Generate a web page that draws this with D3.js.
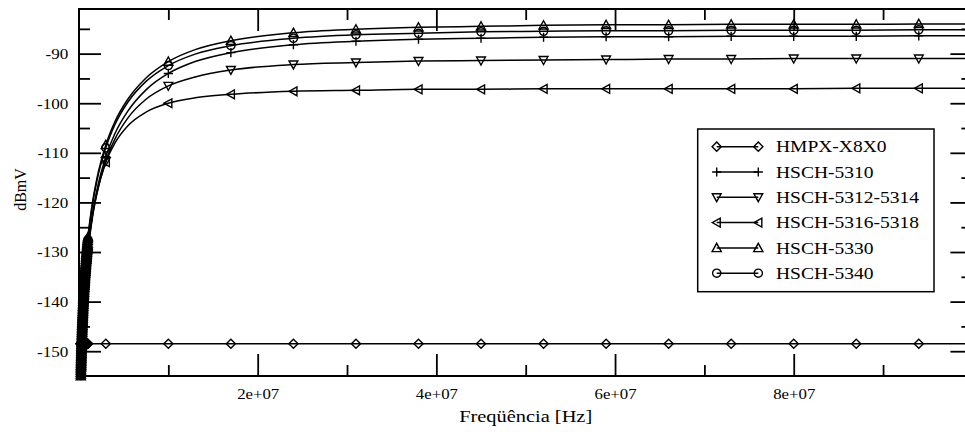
<!DOCTYPE html>
<html>
<head>
<meta charset="utf-8">
<script src="https://cdn.jsdelivr.net/npm/d3@7"></script>
<style>
  html, body { margin: 0; padding: 0; background: #fff; }
  svg { display: block; }
  text { font-family: "Liberation Serif", "Times New Roman", serif; fill: #000; }
</style>
</head>
<body>
<svg id="chart" width="965" height="432"></svg>
<script>
// Frequency grid (Hz): dense logarithmic sweep up to 1 MHz, then the wide-band points
const freqHz = [
  2.000e5, 2.041e5, 2.082e5, 2.125e5, 2.168e5, 2.212e5, 2.257e5, 2.303e5, 2.350e5, 2.398e5,
  2.446e5, 2.496e5, 2.547e5, 2.599e5, 2.652e5, 2.706e5, 2.761e5, 2.817e5, 2.874e5, 2.933e5,
  2.993e5, 3.053e5, 3.116e5, 3.179e5, 3.244e5, 3.310e5, 3.377e5, 3.446e5, 3.516e5, 3.587e5,
  3.660e5, 3.735e5, 3.811e5, 3.889e5, 3.968e5, 4.048e5, 4.131e5, 4.215e5, 4.301e5, 4.388e5,
  4.477e5, 4.569e5, 4.662e5, 4.756e5, 4.853e5, 4.952e5, 5.053e5, 5.156e5, 5.261e5, 5.368e5,
  5.477e5, 5.588e5, 5.702e5, 5.818e5, 5.936e5, 6.057e5, 6.181e5, 6.306e5, 6.435e5, 6.566e5,
  6.699e5, 6.836e5, 6.975e5, 7.117e5, 7.262e5, 7.409e5, 7.560e5, 7.714e5, 7.871e5, 8.031e5,
  8.195e5, 8.361e5, 8.532e5, 8.705e5, 8.882e5, 9.063e5, 9.248e5, 9.436e5, 9.628e5, 9.824e5,
  1.002e6,
  1.5e6, 2.0e6, 3.0e6, 4.0e6, 5.5e6, 7.5e6, 1.0e7, 1.3e7, 1.7e7, 2.4e7,
  3.1e7, 3.8e7, 4.5e7, 5.2e7, 5.9e7, 6.6e7, 7.3e7, 8.0e7, 8.7e7, 9.4e7, 1.0e8
];
// 1 = a symbol is drawn at that point
const symbolOn = [
  1, 1, 1, 1, 1, 1, 1, 1, 1, 1,  1, 1, 1, 1, 1, 1, 1, 1, 1, 1,
  1, 1, 1, 1, 1, 1, 1, 1, 1, 1,  1, 1, 1, 1, 1, 1, 1, 1, 1, 1,
  1, 1, 1, 1, 1, 1, 1, 1, 1, 1,  1, 1, 1, 1, 1, 1, 1, 1, 1, 1,
  1, 1, 1, 1, 1, 1, 1, 1, 1, 1,  1, 1, 1, 1, 1, 1, 1, 1, 1, 1,
  1,
  0, 0, 1, 0, 0, 0, 1, 0, 1, 1,
  1, 1, 1, 1, 1, 1, 1, 1, 1, 1, 0
];

// Detected level (dBmV) for each diode
const hmpxX8X0 = [
  -148.5, -148.5, -148.5, -148.5, -148.5, -148.5, -148.5, -148.5, -148.5, -148.5,
  -148.5, -148.5, -148.5, -148.5, -148.5, -148.5, -148.5, -148.5, -148.5, -148.5,
  -148.5, -148.5, -148.5, -148.5, -148.5, -148.5, -148.5, -148.5, -148.5, -148.5,
  -148.5, -148.5, -148.5, -148.5, -148.5, -148.5, -148.5, -148.5, -148.5, -148.5,
  -148.5, -148.5, -148.5, -148.5, -148.5, -148.5, -148.5, -148.5, -148.5, -148.5,
  -148.5, -148.5, -148.5, -148.5, -148.5, -148.5, -148.5, -148.5, -148.5, -148.5,
  -148.5, -148.5, -148.5, -148.5, -148.5, -148.5, -148.5, -148.5, -148.5, -148.5,
  -148.5, -148.5, -148.5, -148.5, -148.5, -148.5, -148.5, -148.5, -148.5, -148.5,
  -148.5,
  -148.5, -148.5, -148.5, -148.5, -148.5, -148.5, -148.5, -148.5, -148.5, -148.5,
  -148.5, -148.5, -148.5, -148.5, -148.5, -148.5, -148.5, -148.5, -148.5, -148.5, -148.5
];
const hsch5310 = [
  -157.40, -157.05, -156.70, -156.35, -156.00, -155.65, -155.30, -154.95, -154.60, -154.25,
  -153.90, -153.55, -153.20, -152.85, -152.50, -152.15, -151.80, -151.45, -151.10, -150.75,
  -150.40, -150.05, -149.70, -149.35, -149.00, -148.65, -148.30, -147.95, -147.60, -147.25,
  -146.90, -146.55, -146.20, -145.85, -145.50, -145.15, -144.80, -144.45, -144.10, -143.75,
  -143.40, -143.05, -142.70, -142.35, -142.00, -141.65, -141.30, -140.95, -140.60, -140.25,
  -139.90, -139.55, -139.20, -138.85, -138.50, -138.15, -137.80, -137.45, -137.10, -136.75,
  -136.40, -136.05, -135.70, -135.35, -135.00, -134.65, -134.30, -133.95, -133.60, -133.25,
  -132.90, -132.55, -132.20, -131.85, -131.50, -131.15, -130.80, -130.45, -130.10, -129.75,
  -129.40,
  -122.5, -117.6, -110.8, -106.2, -101.5, -97.3, -94.0, -91.6, -89.8, -88.2,
  -87.5, -87.1, -86.9, -86.7, -86.6, -86.6, -86.5, -86.5, -86.5, -86.4, -86.4
];
const hsch5312 = [
  -157.90, -157.55, -157.20, -156.85, -156.50, -156.15, -155.80, -155.45, -155.10, -154.75,
  -154.40, -154.05, -153.70, -153.35, -153.00, -152.65, -152.30, -151.95, -151.60, -151.25,
  -150.90, -150.55, -150.20, -149.85, -149.50, -149.15, -148.80, -148.45, -148.10, -147.75,
  -147.40, -147.05, -146.70, -146.35, -146.00, -145.65, -145.30, -144.95, -144.60, -144.25,
  -143.90, -143.55, -143.20, -142.85, -142.50, -142.15, -141.80, -141.45, -141.10, -140.75,
  -140.40, -140.05, -139.70, -139.35, -139.00, -138.65, -138.30, -137.95, -137.60, -137.25,
  -136.90, -136.55, -136.20, -135.85, -135.50, -135.15, -134.80, -134.45, -134.10, -133.75,
  -133.40, -133.05, -132.70, -132.35, -132.00, -131.65, -131.30, -130.95, -130.60, -130.25,
  -129.90,
  -123.1, -118.3, -111.7, -107.3, -102.9, -99.2, -96.5, -94.7, -93.3, -92.2,
  -91.8, -91.5, -91.4, -91.3, -91.2, -91.1, -91.1, -91.0, -91.0, -91.0, -91.0
];
const hsch5316 = [
  -157.50, -157.15, -156.80, -156.45, -156.10, -155.75, -155.40, -155.05, -154.70, -154.35,
  -154.00, -153.65, -153.30, -152.95, -152.60, -152.25, -151.90, -151.55, -151.20, -150.85,
  -150.50, -150.15, -149.80, -149.45, -149.10, -148.75, -148.40, -148.05, -147.70, -147.35,
  -147.00, -146.65, -146.30, -145.95, -145.60, -145.25, -144.90, -144.55, -144.20, -143.85,
  -143.50, -143.15, -142.80, -142.45, -142.10, -141.75, -141.40, -141.05, -140.70, -140.35,
  -140.00, -139.65, -139.30, -138.95, -138.60, -138.25, -137.90, -137.55, -137.20, -136.85,
  -136.50, -136.15, -135.80, -135.45, -135.10, -134.75, -134.40, -134.05, -133.70, -133.35,
  -133.00, -132.65, -132.30, -131.95, -131.60, -131.25, -130.90, -130.55, -130.20, -129.85,
  -129.50,
  -122.7, -118.1, -111.9, -108.1, -104.5, -101.8, -100.0, -98.9, -98.2, -97.6,
  -97.4, -97.2, -97.2, -97.1, -97.1, -97.1, -97.1, -97.1, -97.0, -97.0, -97.0
];
const hsch5330 = [
  -155.00, -154.65, -154.30, -153.95, -153.60, -153.25, -152.90, -152.55, -152.20, -151.85,
  -151.50, -151.15, -150.80, -150.45, -150.10, -149.75, -149.40, -149.05, -148.70, -148.35,
  -148.00, -147.65, -147.30, -146.95, -146.60, -146.25, -145.90, -145.55, -145.20, -144.85,
  -144.50, -144.15, -143.80, -143.45, -143.10, -142.75, -142.40, -142.05, -141.70, -141.35,
  -141.00, -140.65, -140.30, -139.95, -139.60, -139.25, -138.90, -138.55, -138.20, -137.85,
  -137.50, -137.15, -136.80, -136.45, -136.10, -135.75, -135.40, -135.05, -134.70, -134.35,
  -134.00, -133.65, -133.30, -132.95, -132.60, -132.25, -131.90, -131.55, -131.20, -130.85,
  -130.50, -130.15, -129.80, -129.45, -129.10, -128.75, -128.40, -128.05, -127.70, -127.35,
  -127.00,
  -120.1, -115.2, -108.4, -103.8, -99.1, -94.9, -91.6, -89.2, -87.4, -85.8,
  -85.1, -84.7, -84.5, -84.3, -84.2, -84.2, -84.1, -84.1, -84.1, -84.0, -84.0
];
const hsch5340 = [
  -155.50, -155.15, -154.80, -154.45, -154.10, -153.75, -153.40, -153.05, -152.70, -152.35,
  -152.00, -151.65, -151.30, -150.95, -150.60, -150.25, -149.90, -149.55, -149.20, -148.85,
  -148.50, -148.15, -147.80, -147.45, -147.10, -146.75, -146.40, -146.05, -145.70, -145.35,
  -145.00, -144.65, -144.30, -143.95, -143.60, -143.25, -142.90, -142.55, -142.20, -141.85,
  -141.50, -141.15, -140.80, -140.45, -140.10, -139.75, -139.40, -139.05, -138.70, -138.35,
  -138.00, -137.65, -137.30, -136.95, -136.60, -136.25, -135.90, -135.55, -135.20, -134.85,
  -134.50, -134.15, -133.80, -133.45, -133.10, -132.75, -132.40, -132.05, -131.70, -131.35,
  -131.00, -130.65, -130.30, -129.95, -129.60, -129.25, -128.90, -128.55, -128.20, -127.85,
  -127.50,
  -120.6, -115.7, -109.0, -104.4, -99.7, -95.6, -92.4, -90.1, -88.4, -86.9,
  -86.2, -85.9, -85.6, -85.5, -85.4, -85.4, -85.3, -85.3, -85.3, -85.2, -85.2
];

const seriesNames  = ["HMPX-X8X0", "HSCH-5310", "HSCH-5312-5314", "HSCH-5316-5318", "HSCH-5330", "HSCH-5340"];
const seriesValues = [hmpxX8X0, hsch5310, hsch5312, hsch5316, hsch5330, hsch5340];
const seriesShapes = ["diamond", "plus", "triangleDown", "triangleLeft", "triangleUp", "circle"];

// Axis ticks
const xTickValues = [2e7, 4e7, 6e7, 8e7];
const xTickLabels = ["2e+07", "4e+07", "6e+07", "8e+07"];
const xMinorTicks = [1e7, 3e7, 5e7, 7e7, 9e7];
const yTickValues = [-90, -100, -110, -120, -130, -140, -150];
const yTickLabels = ["-90", "-100", "-110", "-120", "-130", "-140", "-150"];
const yMinorTicks = [-85, -95, -105, -115, -125, -135, -145];

const svg = d3.select("#chart");
const plot = { left: 79, top: 9, right: 972.4, bottom: 376 };

const x = d3.scaleLinear().domain([0, 1e8]).range([plot.left, plot.right]);
const y = d3.scaleLinear().domain([-155, -81]).range([plot.bottom, plot.top]);

// Hollow symbol outlines, centred on (0,0)
const shapePath = {
  diamond:      s => `M0,${-s}L${s},0L0,${s}L${-s},0Z`,
  plus:         s => `M${-s},0H${s}M0,${-s}V${s}`,
  triangleUp:   s => `M0,${-s}L${s},${s * 0.8}L${-s},${s * 0.8}Z`,
  triangleDown: s => `M0,${s}L${s},${-s * 0.8}L${-s},${-s * 0.8}Z`,
  triangleLeft: s => `M${-s},0L${s * 0.8},${-s}L${s * 0.8},${s}Z`,
  circle:       s => `M${s},0A${s},${s} 0 1,1 ${-s},0A${s},${s} 0 1,1 ${s},0Z`
};
const shapeSize = { diamond: 4.6, plus: 4.6, triangleUp: 4.6, triangleDown: 4.4, triangleLeft: 4.4, circle: 4.1 };

svg.append("defs").append("clipPath").attr("id", "plot-clip")
  .append("rect")
  .attr("x", plot.left).attr("y", plot.top)
  .attr("width", plot.right - plot.left).attr("height", plot.bottom - plot.top);

// Curves
const line = d3.line()
  .x((d, i) => x(freqHz[i]))
  .y(d => y(d))
  .curve(d3.curveMonotoneX);

const curves = svg.append("g").attr("clip-path", "url(#plot-clip)");
seriesValues.forEach(vals => {
  curves.append("path")
    .datum(vals)
    .attr("d", line)
    .attr("fill", "none")
    .attr("stroke", "#000")
    .attr("stroke-width", 1.5);
});

// Symbols (only points that lie inside the plotted world)
const marks = svg.append("g");
seriesValues.forEach((vals, si) => {
  const shape = seriesShapes[si];
  const pts = vals.map((v, i) => ({ f: freqHz[i], v, on: symbolOn[i] }))
    .filter(p => p.on && p.v >= y.domain()[0] && p.v <= y.domain()[1] && p.f <= x.domain()[1]);
  marks.append("g").selectAll("path")
    .data(pts)
    .join("path")
    .attr("transform", p => `translate(${x(p.f)},${y(p.v)})`)
    .attr("d", shapePath[shape](shapeSize[shape]))
    .attr("fill", "none")
    .attr("stroke", "#000")
    .attr("stroke-width", 1.4);
});

// Axes: ticks point into the plot on all four sides
function styleAxis(g) {
  g.select(".domain").remove();
  g.selectAll(".tick line").attr("stroke", "#000").attr("stroke-width", 1.8);
}

const xLabelOf = d => xTickLabels[xTickValues.indexOf(d)];
const yLabelOf = d => yTickLabels[yTickValues.indexOf(d)];

// bottom
const gBottom = svg.append("g").attr("transform", `translate(0,${plot.bottom})`)
  .call(d3.axisBottom(x).tickValues(xTickValues).tickSizeInner(-22).tickSizeOuter(0)
    .tickPadding(12.7).tickFormat(xLabelOf))
  .call(styleAxis);
gBottom.selectAll(".tick text").attr("font-size", 15)
  .attr("transform", "scale(1.12,1)");
svg.append("g").attr("transform", `translate(0,${plot.bottom})`)
  .call(d3.axisBottom(x).tickValues(xMinorTicks).tickSizeInner(-11).tickSizeOuter(0).tickFormat(""))
  .call(styleAxis);

// top
svg.append("g").attr("transform", `translate(0,${plot.top})`)
  .call(d3.axisTop(x).tickValues(xTickValues).tickSizeInner(-22).tickSizeOuter(0).tickFormat(""))
  .call(styleAxis);
svg.append("g").attr("transform", `translate(0,${plot.top})`)
  .call(d3.axisTop(x).tickValues(xMinorTicks).tickSizeInner(-11).tickSizeOuter(0).tickFormat(""))
  .call(styleAxis);

// left
const gLeft = svg.append("g").attr("transform", `translate(${plot.left},0)`)
  .call(d3.axisLeft(y).tickValues(yTickValues).tickSizeInner(-22).tickSizeOuter(0)
    .tickPadding(9.4).tickFormat(yLabelOf))
  .call(styleAxis);
gLeft.selectAll(".tick text").attr("font-size", 15)
  .attr("transform", "scale(1.14,1)");
svg.append("g").attr("transform", `translate(${plot.left},0)`)
  .call(d3.axisLeft(y).tickValues(yMinorTicks).tickSizeInner(-11).tickSizeOuter(0).tickFormat(""))
  .call(styleAxis);

// right
svg.append("g").attr("transform", `translate(${plot.right},0)`)
  .call(d3.axisRight(y).tickValues(yTickValues).tickSizeInner(-22).tickSizeOuter(0).tickFormat(""))
  .call(styleAxis);
svg.append("g").attr("transform", `translate(${plot.right},0)`)
  .call(d3.axisRight(y).tickValues(yMinorTicks).tickSizeInner(-11).tickSizeOuter(0).tickFormat(""))
  .call(styleAxis);

// Frame
svg.append("rect")
  .attr("x", plot.left).attr("y", plot.top)
  .attr("width", plot.right - plot.left).attr("height", plot.bottom - plot.top)
  .attr("fill", "none").attr("stroke", "#000").attr("stroke-width", 2);

// Axis titles
svg.append("text")
  .attr("transform", `translate(${(plot.left + plot.right) / 2},422) scale(1.2,1)`)
  .attr("text-anchor", "middle")
  .attr("font-size", 17)
  .text("Freqüência [Hz]");

svg.append("text")
  .attr("transform", `translate(26,${(plot.top + plot.bottom) / 2 - 3}) rotate(-90)`)
  .attr("text-anchor", "middle")
  .attr("font-size", 16)
  .text("dBmV");

// Legend
const legend = svg.append("g");
legend.append("rect")
  .attr("x", 697.7).attr("y", 129)
  .attr("width", 236.3).attr("height", 162.7)
  .attr("fill", "#fff").attr("stroke", "#000").attr("stroke-width", 1.5);

seriesNames.forEach((name, i) => {
  const ly = 146.7 + i * 25.3;
  const shape = seriesShapes[i];
  const row = legend.append("g").attr("transform", `translate(0,${ly})`);
  row.append("line")
    .attr("x1", 716.7).attr("x2", 758.3).attr("y1", 0).attr("y2", 0)
    .attr("stroke", "#000").attr("stroke-width", 1.5);
  [716.7, 758.3].forEach(mx => {
    row.append("path")
      .attr("transform", `translate(${mx},0)`)
      .attr("d", shapePath[shape](shapeSize[shape]))
      .attr("fill", "none").attr("stroke", "#000").attr("stroke-width", 1.4);
  });
  row.append("text")
    .attr("transform", "translate(776,5.6) scale(1.22,1)")
    .attr("font-size", 16)
    .text(name);
});
</script>
</body>
</html>
